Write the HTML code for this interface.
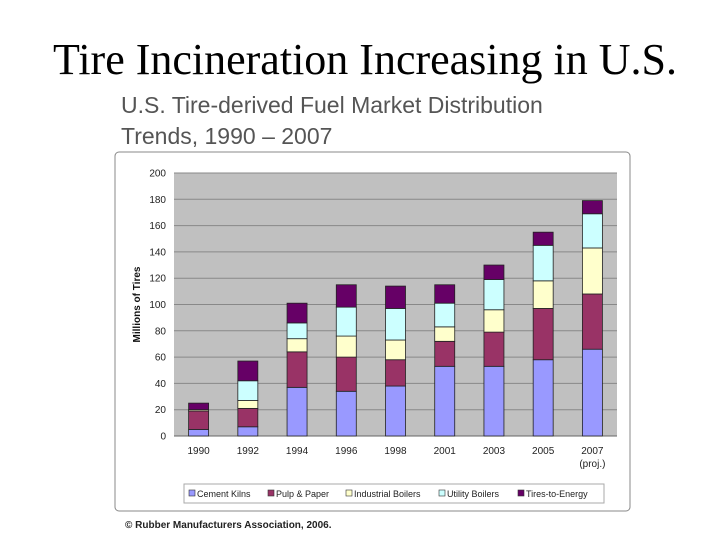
<!DOCTYPE html>
<html><head><meta charset="utf-8"><style>
body{margin:0;width:720px;height:540px;background:#fff;position:relative;overflow:hidden;font-family:"Liberation Sans",sans-serif}
#title{position:absolute;left:0;width:730px;top:34px;text-align:center;font-family:"Liberation Serif",serif;font-size:44px;color:#000}
#sub{position:absolute;left:121px;top:90px;font-size:23px;line-height:31px;color:#555}
#foot{position:absolute;left:125px;top:520px;font-size:10px;font-weight:bold;color:#222}
svg{position:absolute;left:0;top:0}
</style></head><body>
<div id="title">Tire Incineration Increasing in U.S.</div>
<div id="sub">U.S. Tire-derived Fuel Market Distribution<br>Trends, 1990 – 2007</div>
<div id="foot">© Rubber Manufacturers Association, 2006.</div>
<svg id="c" width="720" height="540"></svg>
<script>
const categories=["1990","1992","1994","1996","1998","2001","2003","2005","2007"];
const seriesNames=["Cement Kilns","Pulp & Paper","Industrial Boilers","Utility Boilers","Tires-to-Energy"];
const cement=[5,7,37,34,38,53,53,58,66];
const pulp=[14,14,27,26,20,19,26,39,42];
const industrial=[1,6,10,16,15,11,17,21,35];
const utility=[0,15,12,22,24,18,23,27,26];
const tte=[5,15,15,17,17,14,11,10,10];
const yTicks=[0,20,40,60,80,100,120,140,160,180,200];
const colors=["#9999ff","#993366","#ffffcc","#ccffff","#660066"];
const NS="http://www.w3.org/2000/svg",svg=document.getElementById('c');
function mk(t,a,p){const e=document.createElementNS(NS,t);for(const k in a)e.setAttribute(k,a[k]);(p||svg).appendChild(e);return e;}
const L=174,R=617,T=173,B=436;
const y=v=>B-(v/200)*(B-T);
const bw=(R-L)/categories.length;
const xc=i=>L+bw*(i+0.5);
let e=mk('rect',{x:115,y:152,width:515,height:359,rx:4,fill:'#fff',stroke:'#888','stroke-width':1});

e=mk('rect',{x:L,y:T,width:R-L,height:B-T,fill:'#c0c0c0'});

yTicks.forEach(v=>{
 if(v>0){const g=mk('line',{x1:L,x2:R,y1:y(v),y2:y(v),stroke:'#888','stroke-width':1});}
 const t=mk('text',{x:L-8,y:y(v)+3.5,'text-anchor':'end','font-size':10,fill:'#222'});t.textContent=v;
 
});
e=mk('line',{x1:L,x2:R,y1:B,y2:B,stroke:'#666'});
e=mk('text',{transform:`translate(140,${(T+B)/2}) rotate(-90)`,'text-anchor':'middle','font-size':10,'font-weight':'bold',fill:'#111'});
e.textContent='Millions of Tires';
const series=[cement,pulp,industrial,utility,tte];
categories.forEach((c,i)=>{
 let acc=0;
 series.forEach((s,k)=>{
  const v=s[i];const r=mk('rect',{x:xc(i)-10,y:y(acc+v),width:20,height:y(acc)-y(acc+v),fill:colors[k],stroke:'#222','stroke-width':0.8});
  
  acc+=v;
 });
 const t=mk('text',{x:xc(i),y:454,'text-anchor':'middle','font-size':10,fill:'#222'});t.textContent=c;
 
});
e=mk('text',{x:xc(8),y:467,'text-anchor':'middle','font-size':10,fill:'#222'});e.textContent='(proj.)';

e=mk('rect',{x:184,y:484,width:420,height:19,fill:'#fff',stroke:'#aaa'});

const lx=[189,268,346,439,518];
seriesNames.forEach((n,k)=>{
 const r=mk('rect',{x:lx[k],y:490,width:6,height:6,fill:colors[k],stroke:'#333','stroke-width':0.6});
 
 const t=mk('text',{x:lx[k]+8,y:497,'font-size':9,fill:'#222'});t.textContent=n;
 
});
</script>
</body></html>
